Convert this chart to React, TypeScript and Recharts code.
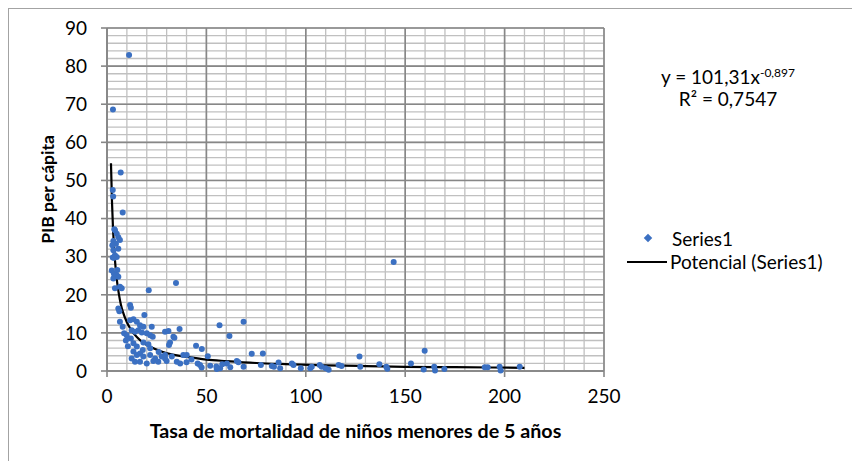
import {
  CartesianGrid, ComposedChart, Legend, Line, Scatter, XAxis, YAxis,
} from 'recharts'

const FONT = 'Lato, sans-serif'
const AZUL = '#3b70c2'
const GRID_MINOR = '#c0c0c0'
const GRID_MAJOR = '#878787'
const AXIS = '#868686'

// tasa de mortalidad < 5 años (x) y PIB per cápita (y)
const mortalidad = [
  11.1, 3.0, 6.9, 2.9, 3.1, 7.9, 4.0, 4.9, 5.7, 6.5, 3.2, 4.5, 5.7, 3.2, 4.0, 2.9, 4.9, 3.5, 2.4, 3.5,
  4.9, 5.7, 3.2, 4.0, 6.5, 7.4, 21.0, 34.7, 5.7, 6.2, 11.6, 12.0, 18.8, 6.5, 7.9, 11.6, 13.3, 15.0, 16.6, 18.3,
  22.5, 8.6, 9.9, 12.4, 14.1, 15.8, 17.5, 20.0, 21.7, 23.0, 29.2, 30.9, 33.4, 33.9, 31.7, 31.2, 13.3, 15.0, 18.3, 20.8,
  21.7, 13.3, 15.0, 16.6, 18.3, 21.7, 24.2, 16.6, 23.3, 25.8, 27.5, 29.2, 30.0, 12.4, 14.1, 29.2, 32.6, 35.1, 36.8, 38.4,
  40.1, 44.8, 47.7, 45.6, 47.6, 50.7, 51.9, 55.2, 56.9, 60.3, 56.6, 68.7, 61.6, 65.3, 66.1, 72.8, 78.4, 68.7, 77.4, 82.9,
  86.3, 87.1, 93.0, 93.8, 97.5, 102.2, 107.0, 103.0, 108.0, 110.0, 111.5, 116.5, 118.0, 127.0, 127.4, 137.0, 140.5, 141.0, 144.2, 152.9,
  159.8, 159.3, 164.6, 165.0, 169.7, 190.0, 191.5, 197.5, 198.0, 207.6, 55.0, 58.0, 46.8, 84.0, 18.0, 26.0, 10.5, 9.5, 12.0, 20.0,
  3.7, 2.7, 5.2, 40.0, 42.5, 62.0, 36.5,
]
const pib = [
  82.9, 68.6, 52.1, 47.5, 45.8, 41.6, 36.9, 36.0, 35.1, 34.4, 34.1, 33.4, 32.1, 31.7, 30.4, 29.8, 29.9, 29.7, 26.4, 25.5,
  25.1, 24.7, 24.3, 21.7, 22.1, 21.7, 21.2, 23.1, 16.4, 15.7, 17.3, 16.6, 14.7, 12.9, 11.6, 13.3, 13.6, 12.9, 12.0, 11.6,
  11.6, 9.9, 9.4, 10.7, 10.3, 10.7, 10.1, 9.9, 9.4, 9.0, 10.3, 10.5, 9.0, 8.7, 7.5, 6.8, 7.3, 6.4, 7.5, 7.0,
  6.0, 5.1, 4.2, 4.6, 3.8, 4.2, 3.3, 2.4, 2.6, 2.4, 3.8, 3.3, 2.6, 3.3, 2.4, 4.2, 3.8, 2.4, 2.0, 4.2,
  4.2, 6.6, 5.8, 2.0, 0.9, 3.9, 1.4, 0.5, 0.7, 2.0, 12.0, 12.9, 9.2, 2.6, 2.3, 4.5, 4.6, 1.1, 1.6, 1.3,
  2.2, 0.7, 2.0, 1.6, 0.7, 0.7, 1.6, 1.1, 1.1, 0.7, 0.3, 1.6, 1.3, 3.8, 1.1, 1.8, 1.1, 0.6, 28.6, 2.0,
  5.3, 0.4, 1.1, 0.1, 0.5, 1.0, 1.0, 1.1, 0.1, 1.1, 1.2, 1.8, 1.6, 1.1, 5.5, 5.0, 6.5, 8.0, 8.5, 2.0,
  37.2, 33.0, 26.5, 2.3, 3.0, 1.0, 11.0,
]

// línea de tendencia potencial
const tendenciaX = [2, 2.5, 3, 3.5, 4, 5, 6, 7, 8, 10, 12, 15, 18, 22, 27, 33, 40, 50, 60, 75, 90, 110, 130, 150, 175, 210]
const tendenciaY = [54.5, 44.6, 37.7, 32.9, 29.1, 23.7, 20.1, 17.4, 15.5, 12.8, 10.9, 8.9, 7.5, 6.3, 5.2, 4.3, 3.7, 3.0, 2.6, 2.1, 1.8, 1.5, 1.3, 1.1, 1.0, 0.84]

const xTicks = [0, 50, 100, 150, 200, 250]
const yTicks = [0, 10, 20, 30, 40, 50, 60, 70, 80, 90]
const xMinor = Array.from({ length: 26 }, (_, i) => i * 10)
const yMinor = Array.from({ length: 46 }, (_, i) => i * 2)

const puntos = mortalidad.map((x, i) => ({ x, y: pib[i] }))
const tendencia = tendenciaX.map((x, i) => ({ x, y: tendenciaY[i] }))

const Dot = (props: any) => <circle cx={props.cx} cy={props.cy} r={3} fill={AZUL} />

const YTitle = (props: any) => {
  const vb = props.viewBox
  const cx = vb.x + 39
  const cy = vb.y + vb.height / 2 - 10
  return (
    <text x={cx} y={cy} transform={`rotate(-90, ${cx}, ${cy})`} textAnchor="middle" dominantBaseline="central"
      fontFamily={FONT} fontWeight="bold" fontSize={17.5} fill="#000">
      PIB per cápita
    </text>
  )
}

function Leyenda() {
  return (
    <div style={{ fontFamily: FONT, fontSize: 19, color: '#000' }}>
      <div style={{ display: 'flex', alignItems: 'center', height: 23 }}>
        <span style={{ width: 45, position: 'relative', height: 23 }}>
          <span style={{
            position: 'absolute', left: 18, top: 8, width: 6, height: 6, background: AZUL, transform: 'rotate(45deg)',
          }} />
        </span>
        <span>Series1</span>
      </div>
      <div style={{ display: 'flex', alignItems: 'center', height: 23 }}>
        <span style={{ width: 40, height: 2, background: '#000', marginRight: 3 }} />
        <span>Potencial (Series1)</span>
      </div>
    </div>
  )
}

export default function App() {
  return (
    <div style={{ position: 'relative', width: 846, height: 470, marginTop: -1, marginLeft: -1, background: '#fff', fontFamily: FONT }}>
      <ComposedChart width={844} height={470} data={puntos} margin={{ top: 20, right: 248, left: 0, bottom: 32 }}
        style={{ position: 'absolute', left: 1, top: 1 }}>
        <CartesianGrid horizontalValues={yMinor} verticalValues={xMinor} stroke={GRID_MINOR} strokeWidth={1.3} />
        <CartesianGrid horizontalValues={yTicks} verticalValues={xTicks} stroke={GRID_MAJOR} strokeWidth={1.6} />
        <XAxis
          type="number" dataKey="x" domain={[0, 250]} ticks={xTicks} interval={0} height={75}
          axisLine={{ stroke: AXIS, strokeWidth: 1.6 }} tickLine={{ stroke: AXIS, strokeWidth: 1.6 }} tickSize={6} tickMargin={13}
          tick={{ fontSize: 19, fill: '#000', fontFamily: FONT }}
          label={{ value: 'Tasa de mortalidad de niños menores de 5 años', position: 'insideBottom', offset: 8, fontSize: 19.7, fontWeight: 'bold', fill: '#000', fontFamily: FONT }}
        />
        <YAxis
          type="number" domain={[0, 90]} ticks={yTicks} interval={0} width={99}
          axisLine={{ stroke: AXIS, strokeWidth: 1.6 }} tickLine={{ stroke: AXIS, strokeWidth: 1.6 }} tickSize={6} tickMargin={14}
          tick={{ fontSize: 19, fill: '#000', fontFamily: FONT }}
          label={<YTitle />}
        />
        <Scatter name="Series1" data={puntos} dataKey="y" shape={Dot} isAnimationActive={false} />
        <Line name="Potencial (Series1)" data={tendencia} dataKey="y" type="monotone" stroke="#000" strokeWidth={2.2}
          dot={false} activeDot={false} isAnimationActive={false} />
        <Legend layout="vertical" align="center" verticalAlign="middle" content={() => <Leyenda />}
          wrapperStyle={{ left: 619, top: 219, width: 225 }} />
      </ComposedChart>
      {/* marco del área del gráfico */}
      <div style={{
        position: 'absolute', left: 0, top: 0, width: 844, height: 468, border: '2px solid #a3a3a3', pointerEvents: 'none',
      }} />
      <div style={{
        position: 'absolute', left: 621, top: 60, width: 200, textAlign: 'center', fontSize: 19, lineHeight: '19px', color: '#000',
      }}>
        <div>y = 101,31x<span style={{ fontSize: 12, position: 'relative', top: -7 }}>-0,897</span></div>
        <div>R² = 0,7547</div>
      </div>
    </div>
  )
}
